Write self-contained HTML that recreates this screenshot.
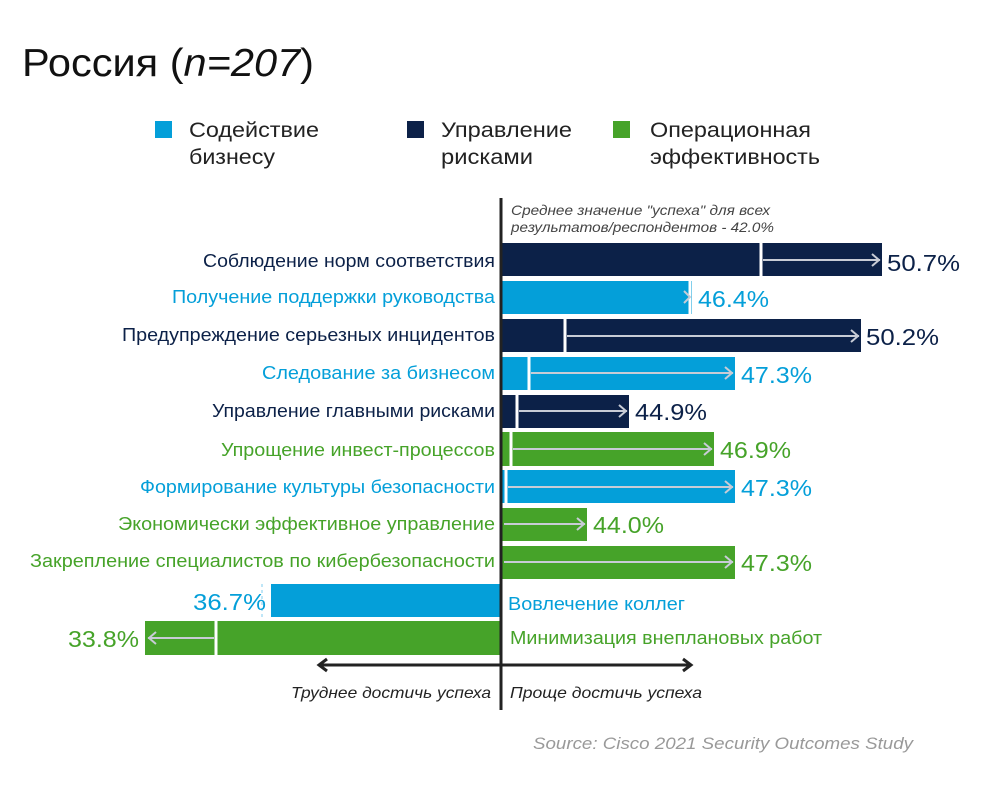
<!DOCTYPE html>
<html><head><meta charset="utf-8"><style>
body{margin:0;background:#fff;}
svg{display:block;font-family:"Liberation Sans",sans-serif;}
</style></head><body>
<svg width="1000" height="785" viewBox="0 0 1000 785">
<text x="22" y="76" font-size="39" fill="#111" textLength="292" lengthAdjust="spacingAndGlyphs">Россия (<tspan font-style="italic">n=207</tspan>)</text>
<rect x="155" y="121" width="17" height="17" fill="#049fd9"/>
<text x="189" y="137" font-size="21" fill="#222" textLength="130" lengthAdjust="spacingAndGlyphs">Содействие</text><text x="189" y="164" font-size="21" fill="#222" textLength="86" lengthAdjust="spacingAndGlyphs">бизнесу</text>
<rect x="407" y="121" width="17" height="17" fill="#0c2148"/>
<text x="441" y="137" font-size="21" fill="#222" textLength="131" lengthAdjust="spacingAndGlyphs">Управление</text><text x="441" y="164" font-size="21" fill="#222" textLength="92" lengthAdjust="spacingAndGlyphs">рисками</text>
<rect x="613" y="121" width="17" height="17" fill="#46a329"/>
<text x="650" y="137" font-size="21" fill="#222" textLength="161" lengthAdjust="spacingAndGlyphs">Операционная</text><text x="650" y="164" font-size="21" fill="#222" textLength="170" lengthAdjust="spacingAndGlyphs">эффективность</text>
<text x="511" y="215" font-size="14" font-style="italic" fill="#444" textLength="259" lengthAdjust="spacingAndGlyphs">Среднее значение "успеха" для всех</text>
<text x="511" y="232" font-size="14" font-style="italic" fill="#444" textLength="263" lengthAdjust="spacingAndGlyphs">результатов/респондентов - 42.0%</text>
<g>
<rect x="502" y="243" width="380" height="33" fill="#0c2148"/>
<rect x="502" y="281" width="190" height="33" fill="#049fd9"/>
<rect x="502" y="319" width="359" height="33" fill="#0c2148"/>
<rect x="502" y="357" width="233" height="33" fill="#049fd9"/>
<rect x="502" y="395" width="127" height="33" fill="#0c2148"/>
<rect x="502" y="432" width="212" height="34" fill="#46a329"/>
<rect x="502" y="470" width="233" height="33" fill="#049fd9"/>
<rect x="502" y="508" width="85" height="33" fill="#46a329"/>
<rect x="502" y="546" width="233" height="33" fill="#46a329"/>
<rect x="271" y="584" width="230" height="33" fill="#049fd9"/>
<rect x="145" y="621" width="356" height="34" fill="#46a329"/>
</g>
<g stroke="#fff" stroke-width="3">
<line x1="761" y1="243" x2="761" y2="276"/><line x1="690" y1="281" x2="690" y2="314"/>
<line x1="565" y1="319" x2="565" y2="352"/><line x1="529" y1="357" x2="529" y2="390"/>
<line x1="517" y1="395" x2="517" y2="428"/><line x1="511" y1="432" x2="511" y2="466"/>
<line x1="506" y1="470" x2="506" y2="503"/><line x1="216" y1="621" x2="216" y2="655"/>
</g>
<g stroke="#c8ccd6" stroke-width="2" fill="none">
<path d="M763 260H880M872 254l7 6-7 6"/>
<path d="M684 291l6 6-6 6"/>
<path d="M567 336H859M851 330l7 6-7 6"/>
<path d="M531 373H733M725 367l7 6-7 6"/>
<path d="M519 411H627M619 405l7 6-7 6"/>
<path d="M513 449H712M704 443l7 6-7 6"/>
<path d="M508 487H733M725 481l7 6-7 6"/>
<path d="M504 524H585M577 518l7 6-7 6"/>
<path d="M504 562H733M725 556l7 6-7 6"/>
<path d="M214 638H148M156 632l-7 6 7 6"/>
<path d="M262 584V618" stroke-dasharray="3 3" stroke="#bfe6f7"/>
</g>
<line x1="501" y1="198" x2="501" y2="710" stroke="#222" stroke-width="3"/>
<g font-size="23" lengthAdjust="spacingAndGlyphs">
<text x="887" y="271" fill="#0c2148" textLength="73" lengthAdjust="spacingAndGlyphs">50.7%</text>
<text x="698" y="307" fill="#049fd9" textLength="71" lengthAdjust="spacingAndGlyphs">46.4%</text>
<text x="866" y="345" fill="#0c2148" textLength="73" lengthAdjust="spacingAndGlyphs">50.2%</text>
<text x="741" y="383" fill="#049fd9" textLength="71" lengthAdjust="spacingAndGlyphs">47.3%</text>
<text x="635" y="420" fill="#0c2148" textLength="72" lengthAdjust="spacingAndGlyphs">44.9%</text>
<text x="720" y="458" fill="#46a329" textLength="71" lengthAdjust="spacingAndGlyphs">46.9%</text>
<text x="741" y="496" fill="#049fd9" textLength="71" lengthAdjust="spacingAndGlyphs">47.3%</text>
<text x="593" y="533" fill="#46a329" textLength="71" lengthAdjust="spacingAndGlyphs">44.0%</text>
<text x="741" y="571" fill="#46a329" textLength="71" lengthAdjust="spacingAndGlyphs">47.3%</text>
<text x="193" y="610" fill="#049fd9" textLength="73" lengthAdjust="spacingAndGlyphs">36.7%</text>
<text x="68" y="647" fill="#46a329" textLength="71" lengthAdjust="spacingAndGlyphs">33.8%</text>
</g>
<g font-size="18">
<text x="203" y="267" fill="#0c2148" textLength="292" lengthAdjust="spacingAndGlyphs">Соблюдение норм соответствия</text>
<text x="172" y="303" fill="#049fd9" textLength="323" lengthAdjust="spacingAndGlyphs">Получение поддержки руководства</text>
<text x="122" y="341" fill="#0c2148" textLength="373" lengthAdjust="spacingAndGlyphs">Предупреждение серьезных инцидентов</text>
<text x="262" y="379" fill="#049fd9" textLength="233" lengthAdjust="spacingAndGlyphs">Следование за бизнесом</text>
<text x="212" y="417" fill="#0c2148" textLength="283" lengthAdjust="spacingAndGlyphs">Управление главными рисками</text>
<text x="221" y="456" fill="#46a329" textLength="274" lengthAdjust="spacingAndGlyphs">Упрощение инвест-процессов</text>
<text x="140" y="493" fill="#049fd9" textLength="355" lengthAdjust="spacingAndGlyphs">Формирование культуры безопасности</text>
<text x="118" y="530" fill="#46a329" textLength="377" lengthAdjust="spacingAndGlyphs">Экономически эффективное управление</text>
<text x="30" y="567" fill="#46a329" textLength="465" lengthAdjust="spacingAndGlyphs">Закрепление специалистов по кибербезопасности</text>
<text x="508" y="610" fill="#049fd9" textLength="177" lengthAdjust="spacingAndGlyphs">Вовлечение коллег</text>
<text x="510" y="644" fill="#46a329" textLength="312" lengthAdjust="spacingAndGlyphs">Минимизация внеплановых работ</text>
</g>
<g stroke="#222" stroke-width="3" fill="none">
<path d="M320 665H690M327 659l-8 6 8 6M683 659l8 6-8 6"/>
</g>
<text x="291" y="698" font-size="16" font-style="italic" fill="#222" textLength="200" lengthAdjust="spacingAndGlyphs">Труднее достичь успеха</text>
<text x="510" y="698" font-size="16" font-style="italic" fill="#222" textLength="192" lengthAdjust="spacingAndGlyphs">Проще достичь успеха</text>
<text x="533" y="749" font-size="16.5" font-style="italic" fill="#999" textLength="380" lengthAdjust="spacingAndGlyphs">Source: Cisco 2021 Security Outcomes Study</text>
</svg>
</body></html>
